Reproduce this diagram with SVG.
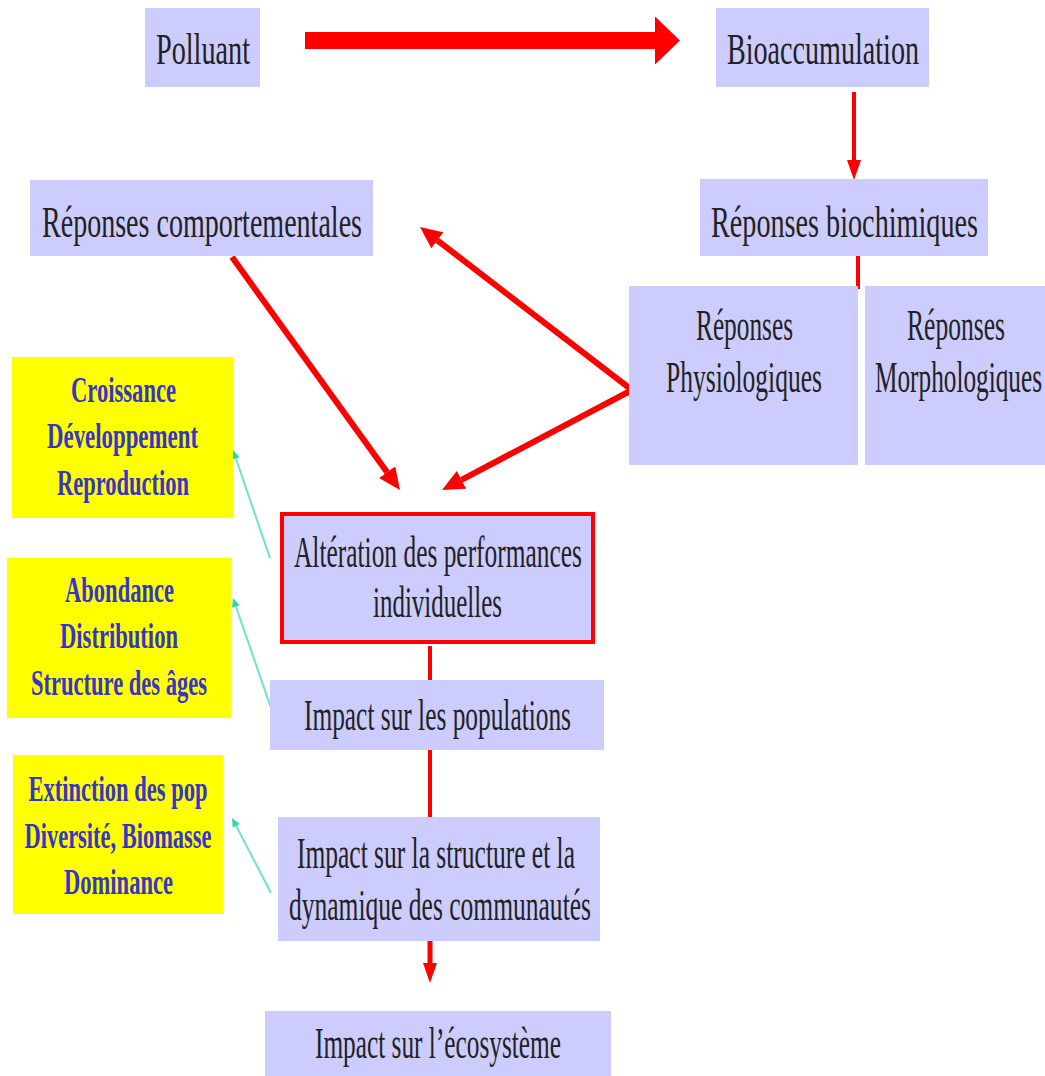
<svg xmlns="http://www.w3.org/2000/svg" width="1045" height="1076" viewBox="0 0 1045 1076">
  <style>
    .box { fill: #ccccff; }
    .note { fill: #ffff00; }
    .lbl { font-family: "Liberation Serif", "Times New Roman", serif; font-size: 45px; fill: #222222; text-anchor: middle; }
    .nlbl { font-family: "Liberation Serif", "Times New Roman", serif; font-size: 36px; font-weight: bold; fill: #3535c8; text-anchor: middle; }
    .red { stroke: #ff0000; fill: none; }
    .teal { stroke: #6fe3c8; stroke-width: 2; fill: none; }
  </style>
  <defs>
    <marker id="headBig" markerUnits="userSpaceOnUse" markerWidth="26" markerHeight="48" refX="0" refY="24" orient="auto">
      <path d="M0,0 L25,24 L0,48 z" fill="#ff0000"/>
    </marker>
    <marker id="headMid" markerUnits="userSpaceOnUse" markerWidth="23" markerHeight="20" refX="0" refY="10" orient="auto-start-reverse">
      <path d="M0,0 L22,10 L0,20 z" fill="#ff0000"/>
    </marker>
    <marker id="headSmall" markerUnits="userSpaceOnUse" markerWidth="24" markerHeight="16" refX="0" refY="8" orient="auto">
      <path d="M0,1 L20,8 L0,15 z" fill="#ff0000"/>
    </marker>
    <marker id="headTeal" markerUnits="userSpaceOnUse" markerWidth="10" markerHeight="8" refX="0" refY="4" orient="auto">
      <path d="M0,0 L9,4 L0,8 z" fill="#2fd6a8"/>
    </marker>
  </defs>

  <!-- connectors -->
  <g id="connectors">
    <line class="red" x1="305" y1="40.5" x2="655" y2="40.5" stroke-width="17" marker-end="url(#headBig)"/>
    <line class="red" x1="854" y1="92" x2="854" y2="160" stroke-width="4" marker-end="url(#headSmall)"/>
    <line class="red" x1="858" y1="256" x2="858" y2="289" stroke-width="4"/>
    <polyline class="red" points="437.4,240.4 632,390 461.5,479.8" stroke-width="6" stroke-linejoin="miter" marker-start="url(#headMid)" marker-end="url(#headMid)"/>
    <line class="red" x1="232" y1="257" x2="387.1" y2="472.2" stroke-width="6" marker-end="url(#headMid)"/>
    <line class="red" x1="430" y1="646" x2="430" y2="681" stroke-width="4"/>
    <line class="red" x1="430" y1="750" x2="430" y2="818" stroke-width="4"/>
    <line class="red" x1="430" y1="941" x2="430" y2="963" stroke-width="5" marker-end="url(#headSmall)"/>
    <line class="teal" x1="270" y1="558" x2="235.9" y2="458.5" marker-end="url(#headTeal)"/>
    <line class="teal" x1="271" y1="708" x2="235.9" y2="606.5" marker-end="url(#headTeal)"/>
    <line class="teal" x1="271" y1="893" x2="236.2" y2="826" marker-end="url(#headTeal)"/>
  </g>

  <g id="polluant">
    <rect class="box" x="145" y="8" width="115" height="79"/>
    <text class="lbl" x="203" y="64" textLength="94" lengthAdjust="spacingAndGlyphs">Polluant</text>
  </g>
  <g id="bioaccumulation">
    <rect class="box" x="716" y="8" width="213" height="79"/>
    <text class="lbl" x="823" y="64" textLength="192" lengthAdjust="spacingAndGlyphs">Bioaccumulation</text>
  </g>
  <g id="comportementales">
    <rect class="box" x="30" y="180" width="343" height="76"/>
    <text class="lbl" x="202" y="237" textLength="320" lengthAdjust="spacingAndGlyphs">Réponses comportementales</text>
  </g>
  <g id="biochimiques">
    <rect class="box" x="700" y="179" width="288" height="77"/>
    <text class="lbl" x="844.5" y="237" textLength="267" lengthAdjust="spacingAndGlyphs">Réponses biochimiques</text>
  </g>
  <g id="physiologiques">
    <rect class="box" x="629" y="286" width="229" height="179"/>
    <text class="lbl" x="744.5" y="340" textLength="97" lengthAdjust="spacingAndGlyphs">Réponses</text>
    <text class="lbl" x="744" y="392" textLength="156" lengthAdjust="spacingAndGlyphs">Physiologiques</text>
  </g>
  <g id="morphologiques">
    <rect class="box" x="865" y="286" width="180" height="179"/>
    <text class="lbl" x="956" y="340" textLength="98" lengthAdjust="spacingAndGlyphs">Réponses</text>
    <text class="lbl" x="958.5" y="392" textLength="167" lengthAdjust="spacingAndGlyphs">Morphologiques</text>
  </g>
  <g id="alteration">
    <rect class="box" x="282" y="514" width="311" height="128" stroke="#ff0000" stroke-width="4"/>
    <text class="lbl" x="438" y="567" textLength="288" lengthAdjust="spacingAndGlyphs">Altération des performances</text>
    <text class="lbl" x="437.5" y="617" textLength="129" lengthAdjust="spacingAndGlyphs">individuelles</text>
  </g>
  <g id="populations">
    <rect class="box" x="270" y="680" width="334" height="70"/>
    <text class="lbl" x="437.5" y="730" textLength="267" lengthAdjust="spacingAndGlyphs">Impact sur les populations</text>
  </g>
  <g id="communautes">
    <rect class="box" x="278" y="817" width="322" height="124"/>
    <text class="lbl" x="436" y="868" textLength="278" lengthAdjust="spacingAndGlyphs">Impact sur la structure et la</text>
    <text class="lbl" x="440" y="920" textLength="302" lengthAdjust="spacingAndGlyphs">dynamique des communautés</text>
  </g>
  <g id="ecosysteme">
    <rect class="box" x="265" y="1011" width="346" height="65"/>
    <text class="lbl" x="438" y="1058" textLength="246" lengthAdjust="spacingAndGlyphs">Impact sur l’écosystème</text>
  </g>

  <g id="note-individu">
    <rect class="note" x="12" y="357" width="221" height="161"/>
    <text class="nlbl" x="123.5" y="402" textLength="105" lengthAdjust="spacingAndGlyphs">Croissance</text>
    <text class="nlbl" x="122.5" y="448" textLength="151" lengthAdjust="spacingAndGlyphs">Développement</text>
    <text class="nlbl" x="123" y="495" textLength="132" lengthAdjust="spacingAndGlyphs">Reproduction</text>
  </g>
  <g id="note-population">
    <rect class="note" x="7" y="558" width="224" height="160"/>
    <text class="nlbl" x="119.5" y="602" textLength="109" lengthAdjust="spacingAndGlyphs">Abondance</text>
    <text class="nlbl" x="119" y="648" textLength="118" lengthAdjust="spacingAndGlyphs">Distribution</text>
    <text class="nlbl" x="119" y="695" textLength="176" lengthAdjust="spacingAndGlyphs">Structure des âges</text>
  </g>
  <g id="note-communaute">
    <rect class="note" x="13" y="755" width="210" height="159"/>
    <text class="nlbl" x="118" y="801" textLength="179" lengthAdjust="spacingAndGlyphs">Extinction des pop</text>
    <text class="nlbl" x="118" y="848" textLength="187" lengthAdjust="spacingAndGlyphs">Diversité, Biomasse</text>
    <text class="nlbl" x="118.5" y="894" textLength="109" lengthAdjust="spacingAndGlyphs">Dominance</text>
  </g>
</svg>
